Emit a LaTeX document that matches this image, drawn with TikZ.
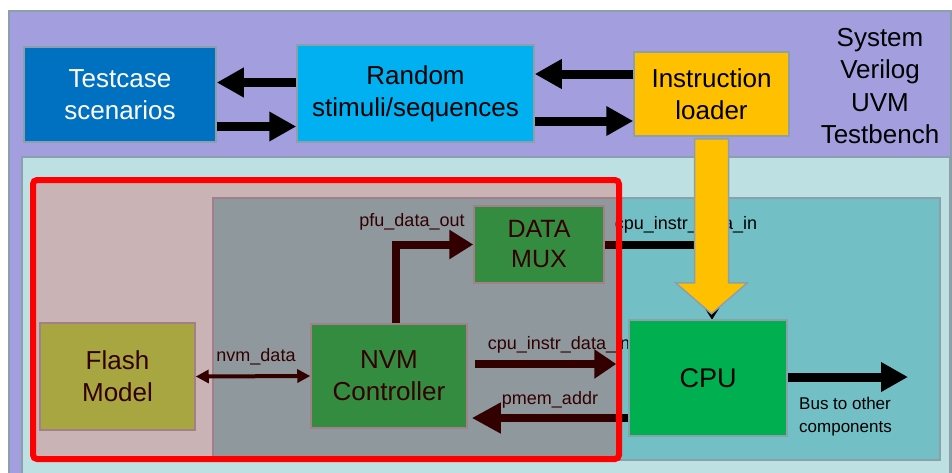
\documentclass[tikz,border=0pt]{standalone}
\usepackage{fontspec}
\setmainfont{Liberation Sans}
\usetikzlibrary{arrows.meta}
\definecolor{tbpurple}{RGB}{163,159,223}
\definecolor{envblue}{RGB}{189,224,227}
\definecolor{socteal}{RGB}{114,191,197}
\definecolor{boxline}{RGB}{140,160,172}
\definecolor{tcblue}{RGB}{0,112,192}
\definecolor{stimblue}{RGB}{0,176,240}
\definecolor{loadyellow}{RGB}{255,192,0}
\definecolor{cpugreen}{RGB}{0,176,80}
\definecolor{flashgreen}{RGB}{146,208,80}
\begin{document}
\begin{tikzpicture}[x=1pt,y=-1pt,
    blk/.style={draw=boxline, line width=1.5pt, inner sep=0pt, align=center,
      font=\fontsize{26}{32}\selectfont},
    lbl/.style={inner sep=0pt, font=\fontsize{18}{21}\selectfont},
    bigarr/.style={line width=9pt, -{Triangle[length=27pt,width=28pt]}},
    midarr/.style={line width=8pt, -{Triangle[length=24pt,width=28pt]}}]
  \useasboundingbox (0,0) rectangle (952,472);
  \clip (0,0) rectangle (952,472);

  % testbench, environment and soc background
  \draw[boxline, line width=2pt, fill=tbpurple] (9,11) rectangle (951,490);
  \draw[boxline, line width=2pt, fill=envblue] (22,157) rectangle (950,490);
  \draw[boxline, line width=2pt, fill=socteal] (213,198) rectangle (940,460);

  \node[align=center, font=\fontsize{26}{32.5}\selectfont] (tbname) at (880,86)
    {System\\Verilog\\UVM\\Testbench};

  % uvm components
  \node[blk, fill=tcblue, text=white, minimum width=192pt, minimum height=95pt]
    (testcase) at (120,94.5) {Testcase\\scenarios};
  \node[blk, fill=stimblue, minimum width=237pt, minimum height=97pt]
    (stimuli) at (415.5,93.5) {Random\\stimuli/sequences};
  \node[blk, fill=loadyellow, minimum width=155pt, minimum height=84pt]
    (loader) at (711.5,94) {Instruction\\loader};

  \draw[bigarr] ([yshift=11pt]stimuli.west) -- ([yshift=11pt]stimuli.west -| testcase.east);
  \draw[bigarr] ([yshift=-32pt]testcase.east) -- ([yshift=-32pt]testcase.east -| stimuli.west);
  \draw[bigarr] ([yshift=20pt]loader.west) -- ([yshift=20pt]loader.west -| stimuli.east);
  \draw[bigarr] ([yshift=-27pt]loader.west -| stimuli.east) -- ([yshift=-27pt]loader.west);

  % soc blocks
  \node[blk, fill=cpugreen, minimum width=130pt, minimum height=77pt, font=\fontsize{25}{30}\selectfont]
    (dmux) at (539,244.5) {DATA\\MUX};
  \node[blk, fill=cpugreen, minimum width=156pt, minimum height=104pt]
    (nvmctrl) at (389,376) {NVM\\Controller};
  \node[blk, fill=flashgreen, minimum width=155pt, minimum height=107pt]
    (flash) at (117.5,376.5) {Flash\\Model};

  % data mux to cpu, mostly under the loader arrow
  \node[lbl] (dmuxlbl) at (686,225) {cpu\_instr\_data\_in};
  \draw[midarr] (dmux.east) -| (712,320);

  \node[lbl] (cpulbl) at (559,345) {cpu\_instr\_data\_in};

  % loader arrow
  \draw[boxline, line width=1.5pt, fill=loadyellow] ([xshift=-17pt,yshift=-2pt]loader.south)
    -- ++(34,0) -- ++(0,144) -- ++(19,0) -- ++(-36,31) -- ++(-36,-31) -- ++(19,0) -- cycle;

  \node[blk, fill=cpugreen, minimum width=158pt, minimum height=116pt, font=\fontsize{27}{32}\selectfont]
    (cpu) at (708,378) {CPU};

  % nvm connections
  \draw[line width=4pt, {Triangle[length=13pt,width=13pt]}-{Triangle[length=13pt,width=13pt]}]
    (flash.east) -- (nvmctrl.west);
  \node[lbl] (nvmlbl) at (256,357) {nvm\_data};

  \draw[midarr] ([xshift=7pt]nvmctrl.north) |- (dmux.west);
  \node[lbl] (pfulbl) at (412,222) {pfu\_data\_out};

  \draw[line width=8pt, -{Triangle[length=22pt,width=28pt]}]
    ([xshift=7pt,yshift=12pt]nvmctrl.east) -- ([xshift=-12pt,yshift=14pt]cpu.west);
  \draw[line width=8pt, -{Triangle[length=29pt,width=29pt]}]
    ([yshift=-40pt]cpu.west) -- ([xshift=4pt,yshift=-42pt]nvmctrl.east);
  \node[lbl] (pmemlbl) at (550,400) {pmem\_addr};

  % bus out of cpu
  \coordinate (busend) at (908,377);
  \draw[bigarr] (cpu.east |- busend) -- (busend);
  \node[lbl, align=left, anchor=north west, font=\fontsize{17}{23}\selectfont]
    (buslbl) at (799,397) {Bus to other\\components};

  % red frame over the nvm subsystem
  \draw[red, line width=6pt, rounded corners=4pt, fill=red, fill opacity=0.2]
    (33,180) rectangle (619,459);
\end{tikzpicture}
\end{document}
